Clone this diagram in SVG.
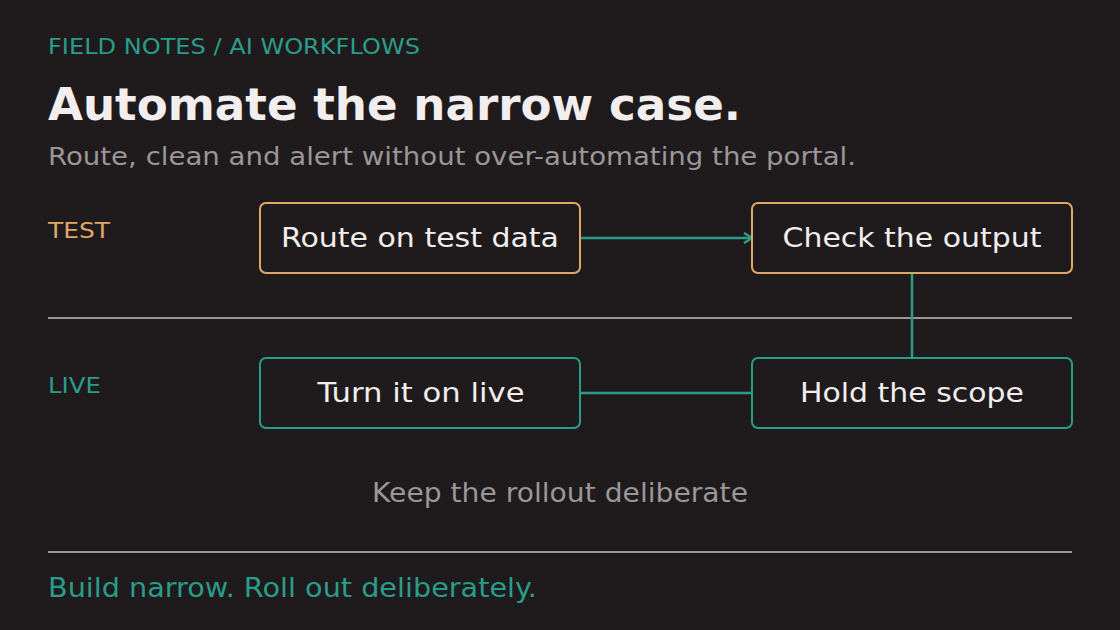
<svg xmlns="http://www.w3.org/2000/svg" width="1120" height="630" viewBox="0 0 1120 630">
<style>
text{font-family:"DejaVu Sans","Verdana",sans-serif}
.box{fill:#1f1b1d;stroke-width:2}
.t{fill:#f2eeee;font-size:26px;text-anchor:middle}
.test{stroke:#e0a866}.live{stroke:#2a9d8a}
.c{stroke:#2a9d8a;stroke-width:2.5;fill:none}
</style>
<defs><marker id="a" markerWidth="12" markerHeight="12" refX="10" refY="6" orient="auto" markerUnits="userSpaceOnUse"><path d="M2,1 L10,6 L2,11" fill="none" stroke="#2a9d8a" stroke-width="2.5"/></marker></defs>
<rect width="1120" height="630" fill="#1f1b1d"/>
<text x="48" y="54" font-size="21" fill="#2a9d8a" textLength="372" lengthAdjust="spacingAndGlyphs">FIELD NOTES / AI WORKFLOWS</text>
<text x="48" y="120" font-size="44" font-weight="bold" fill="#f2eeee" textLength="693" lengthAdjust="spacingAndGlyphs">Automate the narrow case.</text>
<text x="48" y="165" font-size="24" fill="#9b9698" textLength="808" lengthAdjust="spacingAndGlyphs">Route, clean and alert without over-automating the portal.</text>
<text x="48" y="238" font-size="21" fill="#e0a866" textLength="62" lengthAdjust="spacingAndGlyphs">TEST</text>
<text x="48" y="393" font-size="21" fill="#2a9d8a" textLength="53" lengthAdjust="spacingAndGlyphs">LIVE</text>
<line x1="48" y1="318" x2="1072" y2="318" stroke="#9b9698" stroke-width="2"/>
<line x1="48" y1="552" x2="1072" y2="552" stroke="#9b9698" stroke-width="2"/>
<g id="connectors">
<line class="c" x1="580" y1="238" x2="752" y2="238" marker-end="url(#a)"/>
<line class="c" x1="912" y1="273" x2="912" y2="358"/>
<line class="c" x1="580" y1="393" x2="752" y2="393"/>
</g>
<g id="n1"><rect class="box test" x="260" y="203" width="320" height="70" rx="6"/><text class="t" x="420" y="247" textLength="278" lengthAdjust="spacingAndGlyphs">Route on test data</text></g>
<g id="n2"><rect class="box test" x="752" y="203" width="320" height="70" rx="6"/><text class="t" x="912" y="247" textLength="259" lengthAdjust="spacingAndGlyphs">Check the output</text></g>
<g id="n3"><rect class="box live" x="260" y="358" width="320" height="70" rx="6"/><text class="t" x="421" y="402" textLength="207" lengthAdjust="spacingAndGlyphs">Turn it on live</text></g>
<g id="n4"><rect class="box live" x="752" y="358" width="320" height="70" rx="6"/><text class="t" x="912" y="402" textLength="224" lengthAdjust="spacingAndGlyphs">Hold the scope</text></g>
<text x="560" y="502" font-size="26" fill="#9b9698" text-anchor="middle" textLength="376" lengthAdjust="spacingAndGlyphs">Keep the rollout deliberate</text>
<text x="48" y="597" font-size="26" fill="#2a9d8a" textLength="489" lengthAdjust="spacingAndGlyphs">Build narrow. Roll out deliberately.</text>
</svg>
